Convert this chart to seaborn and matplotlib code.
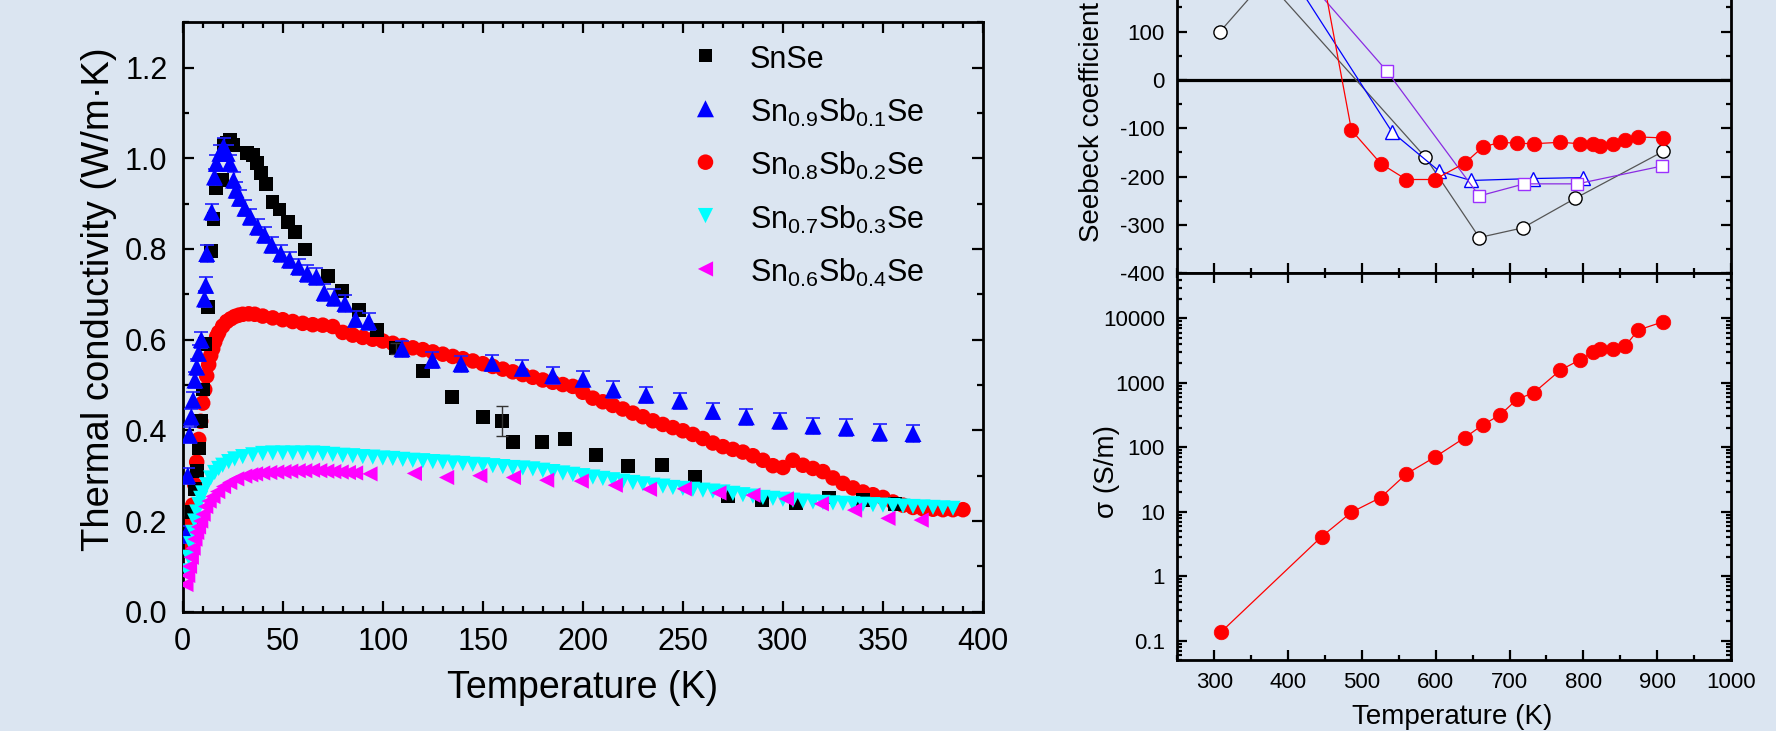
import numpy as np
import pandas as pd
import matplotlib
matplotlib.use('Agg')
import matplotlib.pyplot as plt
import seaborn as sns
from matplotlib.ticker import MultipleLocator, FixedLocator, FixedFormatter, LogLocator, NullFormatter

# ---------------- data: left panel (thermal conductivity) ----------------
T_snse = [3, 4.5, 6, 7.2, 8.3, 9.3, 10.3, 11.3, 12.7, 14.2, 15.4, 16.5, 19.5, 20.4, 22.0, 23.6, 25.4,
          32.0, 35.0, 37.0, 39.3, 41.8, 44.9, 48.4, 52.5, 56.1, 61.1, 72.7, 79.6, 88.2, 97.1, 106.5,
          120.3, 134.6, 150.3, 159.6, 165.3, 179.8, 191.2, 206.5, 222.7, 239.5, 256.0, 272.5, 289.5,
          306.5, 323.0, 340.0, 356.0]
k_snse = [0.17, 0.22, 0.27, 0.31, 0.36, 0.42, 0.49, 0.59, 0.673, 0.796, 0.866, 0.935, 0.952, 1.029, 1.035,
          1.040, 1.029, 1.011, 1.007, 0.989, 0.967, 0.943, 0.904, 0.887, 0.860, 0.837, 0.799, 0.740,
          0.707, 0.665, 0.621, 0.581, 0.531, 0.473, 0.429, 0.421, 0.374, 0.374, 0.380, 0.345, 0.321,
          0.323, 0.298, 0.256, 0.246, 0.240, 0.252, 0.246, 0.237]
T_snse_err = [106.5, 159.6]
k_snse_errval = [0.581, 0.421]
e_snse = [0.012, 0.033]

T_sb1 = [1.5, 2.5, 3.4, 4.3, 5.2, 6.1, 7.0, 7.9, 9.3, 10.9, 11.5, 12.0, 14.5, 15.9, 16.8, 18.6, 20.4, 22.2,
         23.6, 25.4, 26.7, 28.4, 31.1, 33.8, 37.4, 40.9, 44.5, 49.0, 53.4, 57.9, 62.3, 66.8, 70.7, 75.7,
         81.1, 86.4, 93.0, 109.6, 124.8, 139.1, 154.6, 169.7, 184.9, 200.1, 215.2, 231.6, 248.4, 264.9,
         281.7, 298.4, 315.0, 331.7, 348.3, 365.0]
k_sb1 = [0.17, 0.30, 0.39, 0.43, 0.467, 0.511, 0.54, 0.57, 0.60, 0.69, 0.72, 0.79, 0.882, 0.959, 0.989,
         1.011, 1.026, 1.011, 0.989, 0.952, 0.930, 0.912, 0.890, 0.871, 0.849, 0.831, 0.809, 0.790, 0.776,
         0.761, 0.746, 0.739, 0.704, 0.693, 0.680, 0.645, 0.640, 0.580, 0.555, 0.547, 0.548, 0.537, 0.521,
         0.513, 0.490, 0.478, 0.465, 0.442, 0.430, 0.421, 0.410, 0.406, 0.395, 0.393]
e_sb1 = 0.018

T_sb2 = [2, 3, 4, 5, 6, 7, 8, 9, 10, 11, 12, 13, 14, 15, 16, 17, 18, 20, 22, 24, 26, 28, 30, 33, 36,
         40, 45, 50, 55, 60, 65, 70, 75, 80, 85, 90, 95, 100, 105, 110, 115, 120, 125, 130, 135, 140,
         145, 150, 155, 160, 165, 170, 175, 180, 185, 190, 195, 200, 205, 210, 215, 220, 225, 230, 235,
         240, 245, 250, 255, 260, 265, 270, 275, 280, 285, 290, 295, 300, 305, 310, 315, 320, 325, 330,
         335, 340, 345, 350, 355, 360, 365, 370, 375, 380, 385, 390]
k_sb2 = [0.15, 0.17, 0.20, 0.235, 0.28, 0.33, 0.38, 0.42, 0.46, 0.49, 0.52, 0.545, 0.565, 0.58, 0.595,
         0.607, 0.616, 0.630, 0.640, 0.646, 0.651, 0.654, 0.656, 0.657, 0.656,
         0.652, 0.648, 0.644, 0.640, 0.636, 0.633, 0.632, 0.629, 0.616, 0.610, 0.605, 0.601, 0.597, 0.592,
         0.587, 0.582, 0.578, 0.573, 0.568, 0.563, 0.558, 0.553, 0.547, 0.541, 0.535, 0.529, 0.523, 0.517,
         0.511, 0.506, 0.501, 0.497, 0.484, 0.471, 0.463, 0.455, 0.447, 0.438, 0.430, 0.421, 0.413, 0.406,
         0.399, 0.391, 0.382, 0.372, 0.364, 0.358, 0.352, 0.344, 0.334, 0.322, 0.318, 0.334, 0.323, 0.316,
         0.309, 0.295, 0.283, 0.273, 0.264, 0.258, 0.252, 0.242, 0.235, 0.230, 0.227, 0.226, 0.225, 0.225,
         0.225]

T_sb3 = [2, 3, 4, 5, 6, 7, 8, 9, 10, 12, 14, 16, 18, 20, 23, 26, 30, 35,
         40, 45, 50, 55, 60, 65, 70, 75, 80, 85, 90, 95, 100, 105, 110, 115, 120, 125, 130, 135, 140, 145,
         150, 155, 160, 165, 170, 175, 180, 185, 190, 195, 200, 205, 210, 215, 220, 225, 230, 235, 240,
         245, 250, 255, 260, 265, 270, 275, 280, 285, 290, 295, 300, 305, 310, 315, 320, 325, 330, 335,
         340, 345, 350, 355, 360, 365, 370, 375, 380, 385]
k_sb3 = [0.09, 0.12, 0.15, 0.175, 0.20, 0.22, 0.237, 0.25, 0.262, 0.28, 0.295, 0.307, 0.316, 0.323, 0.331,
         0.337, 0.342, 0.346,
         0.349, 0.350, 0.350, 0.350, 0.350, 0.350, 0.349, 0.347, 0.345, 0.344, 0.342, 0.341, 0.339, 0.338,
         0.336, 0.334, 0.333, 0.331, 0.330, 0.328, 0.327, 0.325, 0.324, 0.322, 0.320, 0.318, 0.317, 0.315,
         0.312, 0.309, 0.306, 0.303, 0.300, 0.297, 0.294, 0.291, 0.288, 0.285, 0.282, 0.279, 0.277, 0.274,
         0.272, 0.270, 0.268, 0.266, 0.264, 0.261, 0.258, 0.255, 0.252, 0.250, 0.248, 0.246, 0.244, 0.242,
         0.241, 0.240, 0.239, 0.238, 0.237, 0.236, 0.235, 0.234, 0.233, 0.232, 0.231, 0.230, 0.229, 0.228]

T_sb4 = [1.6, 2.5, 3.4, 4.3, 5.2, 6.1, 7.0, 7.9, 9.0, 10.2, 11.5, 13.2, 15.1, 17.5, 20.4, 23.5, 27.0, 31.0,
         34.0, 36.4, 40.0, 43.5, 47.0, 50.6, 54.0, 57.7, 61.0, 64.9, 68.5, 72.0, 75.5, 79.2, 82.8, 86.4,
         93.6, 115.8, 131.9, 148.5, 165.3, 181.9, 199.2, 216.2, 233.3, 250.7, 268.0, 285.0, 301.7, 319.2,
         335.8, 352.5, 369.1]
k_sb4 = [0.06, 0.08, 0.10, 0.12, 0.14, 0.16, 0.175, 0.187, 0.20, 0.215, 0.232, 0.244, 0.254, 0.265, 0.276,
         0.285, 0.293, 0.299, 0.302, 0.304, 0.306, 0.307, 0.308, 0.309, 0.310, 0.311, 0.311, 0.312, 0.311,
         0.310, 0.309, 0.308, 0.307, 0.306, 0.304, 0.305, 0.296, 0.300, 0.296, 0.290, 0.288, 0.279, 0.270,
         0.271, 0.262, 0.257, 0.249, 0.238, 0.224, 0.206, 0.202]

left_labels = ['SnSe', r'Sn$_{\mathregular{0.9}}$Sb$_{\mathregular{0.1}}$Se',
               r'Sn$_{\mathregular{0.8}}$Sb$_{\mathregular{0.2}}$Se',
               r'Sn$_{\mathregular{0.7}}$Sb$_{\mathregular{0.3}}$Se',
               r'Sn$_{\mathregular{0.6}}$Sb$_{\mathregular{0.4}}$Se']
left_xticks = [0, 50, 100, 150, 200, 250, 300, 350, 400]
left_yticks = [0.0, 0.2, 0.4, 0.6, 0.8, 1.0, 1.2]
left_yticklabels = ['0.0', '0.2', '0.4', '0.6', '0.8', '1.0', '1.2']

# ---------------- data: right panels ----------------
T_blk = [308, 370, 586, 659, 718, 789, 908]
S_blk = [100, 208, -160, -326, -306, -245, -148]
T_blu = [310, 541, 605, 648, 732, 800]
S_blu = [440, -108, -189, -208, -204, -202]
T_pur = [310, 534, 659, 720, 792, 907]
S_pur = [410, 18, -240, -215, -215, -178]
T_red = [308.7, 445.6, 485.9, 525.5, 560.2, 598.6, 639.5, 663.7, 687.2, 710.2, 733.1, 769.0, 795.0,
         812.4, 822.9, 840.3, 857.0, 874.4, 908.4]
S_red = [350, 226, -104, -173, -206, -206, -172, -139, -129, -131, -132, -129, -132, -132, -137, -132,
         -125, -118, -120]
sig_red = [0.134, 4.11, 9.8, 16.6, 38.5, 70, 141, 222, 317, 555, 703, 1578, 2256, 2970, 3342, 3342,
           3764, 6590, 8870]
right_xticks = [300, 400, 500, 600, 700, 800, 900, 1000]
seebeck_ticks = [-400, -300, -200, -100, 0, 100]
sigma_ticks = [0.1, 1, 10, 100, 1000, 10000]
sigma_ticklabels = ['0.1', '1', '10', '100', '1000', '10000']

# ---------------- style ----------------
BG = '#dbe5f1'
sns.set_theme(style='ticks')
plt.rcParams.update({
    'font.family': ['Liberation Sans', 'DejaVu Sans'],
    'mathtext.fontset': 'custom',
    'mathtext.rm': 'Liberation Sans',
    'mathtext.it': 'Liberation Sans:italic',
    'mathtext.bf': 'Liberation Sans:bold',
    'axes.unicode_minus': False,
    'figure.facecolor': BG, 'axes.facecolor': BG, 'savefig.facecolor': BG,
    'axes.edgecolor': 'black', 'axes.linewidth': 2.0,
    'xtick.color': 'black', 'ytick.color': 'black', 'text.color': 'black',
    'axes.grid': False,
})

W, H = 1776, 731
fig = plt.figure(figsize=(W / 100, H / 100), dpi=100)


def px_axes(x0, y0, x1, y1):
    return fig.add_axes([x0 / W, 1 - y1 / H, (x1 - x0) / W, (y1 - y0) / H])


ax1 = px_axes(182.7, 22.3, 983, 611.7)
ax2 = px_axes(1177.3, -113.5, 1731, 273.3)
ax3 = px_axes(1177.3, 273.3, 1731, 660)

# ---------------- left panel ----------------
handles = {}
sns.scatterplot(x=T_sb2, y=k_sb2, marker='o', s=125, color='#ff0000', edgecolor='none', linewidth=0,
                ax=ax1, legend=False, zorder=2)
handles[2] = ax1.collections[-1]
sns.scatterplot(x=T_snse, y=k_snse, marker='s', s=100, color='black', edgecolor='none', linewidth=0,
                ax=ax1, legend=False, zorder=3)
handles[0] = ax1.collections[-1]
ax1.errorbar(T_snse_err, k_snse_errval, yerr=e_snse, fmt='none', ecolor='#333333', elinewidth=1,
             capsize=4.5, capthick=1, zorder=3)
ax1.errorbar(T_sb1, k_sb1, yerr=e_sb1, fmt='none', ecolor='#2020ff', elinewidth=1,
             capsize=5, capthick=1.2, zorder=4)
sns.scatterplot(x=T_sb1, y=k_sb1, marker='^', s=150, color='#0000ff', edgecolor='none', linewidth=0,
                ax=ax1, legend=False, zorder=4)
handles[1] = ax1.collections[-1]
sns.scatterplot(x=T_sb3, y=k_sb3, marker='v', s=120, color='#00ffff', edgecolor='none', linewidth=0,
                ax=ax1, legend=False, zorder=5)
handles[3] = ax1.collections[-1]
sns.scatterplot(x=T_sb4, y=k_sb4, marker='<', s=120, color='#ff00ff', edgecolor='none', linewidth=0,
                ax=ax1, legend=False, zorder=6)
handles[4] = ax1.collections[-1]

ax1.set_xlim(0, 400)
ax1.set_ylim(0, 1.3)
ax1.set_xticks(left_xticks)
ax1.set_xticklabels([str(t) for t in left_xticks])
ax1.set_yticks(left_yticks)
ax1.set_yticklabels(left_yticklabels)
ax1.xaxis.set_minor_locator(MultipleLocator(10))
ax1.yaxis.set_minor_locator(MultipleLocator(0.1))
ax1.tick_params(which='both', direction='in', top=True, right=True, width=1.6)
ax1.tick_params(which='major', length=8, labelsize=22, pad=11)
ax1.tick_params(which='minor', length=4)
ax1.set_xlabel('')
ax1.set_ylabel('')

leg = ax1.legend([handles[i] for i in range(5)], left_labels, loc='upper left',
                 bbox_to_anchor=(690.2 / W, 1 - 41.0 / H), bbox_transform=fig.transFigure,
                 frameon=False, fontsize=22, borderpad=0, borderaxespad=0,
                 handlelength=1.0, handletextpad=0.95, handleheight=1.35, labelspacing=0.62)

fig.text(583 / W, 1 - 688 / H, 'Temperature (K)', fontsize=27, ha='center', va='center')
fig.text(99 / W, 1 - 299 / H, 'Thermal conductivity (W/m\u00b7K)', fontsize=27.5, rotation=90,
         ha='center', va='center')

# ---------------- right top panel (Seebeck) ----------------
ax2.axhline(0, color='black', lw=2.3, zorder=1)
sns.lineplot(x=T_blk, y=S_blk, ax=ax2, sort=False, estimator=None, color='#555555', lw=0.9,
             marker='o', markersize=9.5, markerfacecolor='white', markeredgecolor='black',
             markeredgewidth=1.0, zorder=3)
sns.lineplot(x=T_blu, y=S_blu, ax=ax2, sort=False, estimator=None, color='#0000ff', lw=0.9,
             marker='^', markersize=10.5, markerfacecolor='white', markeredgecolor='#0000ff',
             markeredgewidth=1.0, zorder=3)
sns.lineplot(x=T_pur, y=S_pur, ax=ax2, sort=False, estimator=None, color='#8a2be2', lw=0.9,
             marker='s', markersize=9, markerfacecolor='white', markeredgecolor='#9b30ff',
             markeredgewidth=1.0, zorder=3)
sns.lineplot(x=T_red, y=S_red, ax=ax2, sort=False, estimator=None, color='#ff0000', lw=0.9,
             marker='o', markersize=10.5, markerfacecolor='#ff0000', markeredgecolor='#ff0000',
             markeredgewidth=0.5, zorder=4)
ax2.set_xlim(250, 1000)
ax2.set_ylim(-400, 400)
ax2.set_xticks(right_xticks)
ax2.xaxis.set_minor_locator(MultipleLocator(50))
ax2.set_yticks(seebeck_ticks)
ax2.set_yticklabels([str(v) for v in seebeck_ticks])
ax2.yaxis.set_minor_locator(MultipleLocator(50))
ax2.tick_params(which='both', direction='in', top=True, right=True, width=1.6, labelbottom=False)
ax2.tick_params(which='major', length=7.5, labelsize=16, pad=9)
ax2.tick_params(which='minor', length=3.6)
ax2.set_xlabel('')
ax2.set_ylabel('')

# ---------------- right bottom panel (conductivity) ----------------
sns.lineplot(x=T_red, y=sig_red, ax=ax3, sort=False, estimator=None, color='#ff0000', lw=0.9,
             marker='o', markersize=10.5, markerfacecolor='#ff0000', markeredgecolor='#ff0000',
             markeredgewidth=0.5, zorder=4)
ax3.set_yscale('log')
ax3.set_xlim(250, 1000)
ax3.set_ylim(0.05, 5e4)
ax3.set_xticks(right_xticks)
ax3.set_xticklabels([str(t) for t in right_xticks])
ax3.xaxis.set_minor_locator(MultipleLocator(50))
ax3.yaxis.set_major_locator(FixedLocator(sigma_ticks))
ax3.yaxis.set_major_formatter(FixedFormatter(sigma_ticklabels))
ax3.yaxis.set_minor_locator(LogLocator(base=10, subs=[2, 3, 4, 5, 6, 7, 8, 9], numticks=20))
ax3.yaxis.set_minor_formatter(NullFormatter())
ax3.tick_params(which='both', direction='in', top=True, right=True, width=1.6)
ax3.tick_params(which='major', length=7.5, labelsize=16, pad=9)
ax3.tick_params(which='minor', length=3.6)
ax3.set_xlabel('')
ax3.set_ylabel('')

fig.text(1092 / W, 1 - 241.7 / H, 'Seebeck coefficient', fontsize=20, rotation=90,
         ha='center', va='bottom')
fig.text(1107 / W, 1 - 472 / H, '\u03c3 (S/m)', fontsize=20, rotation=90, ha='center', va='center')
fig.text(1452.6 / W, 7 / H, 'Temperature (K)', fontsize=20, ha='center', va='baseline')

fig.savefig('out.png', dpi=100, facecolor=BG)
